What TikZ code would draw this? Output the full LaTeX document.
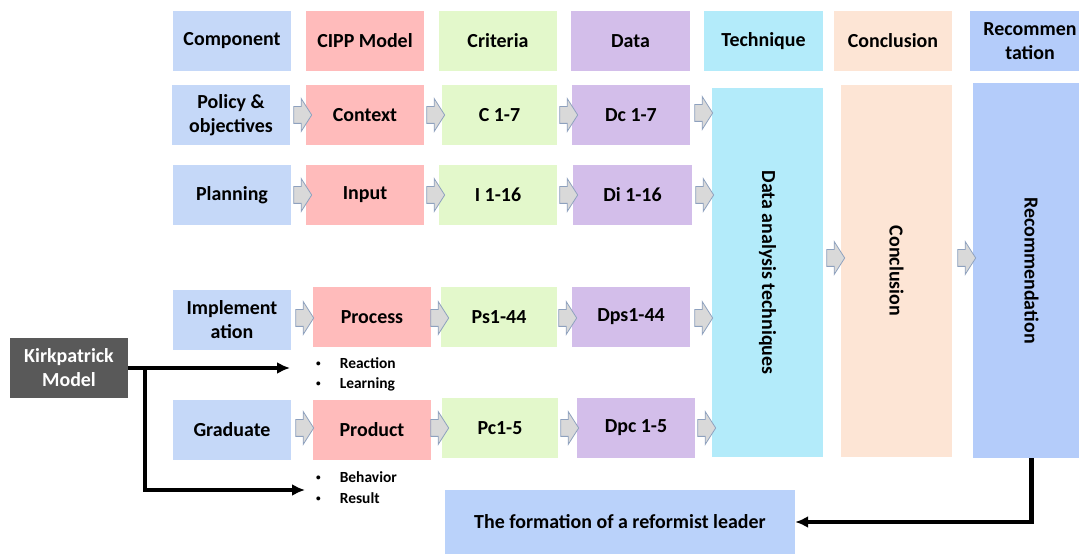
\documentclass[tikz,border=0pt]{standalone}
\usepackage{fontspec}
\setmainfont{Carlito}
\usetikzlibrary{arrows,arrows.meta,shapes}
\definecolor{compblue}{HTML}{C5D8F8}
\definecolor{cipppink}{HTML}{FFBBBB}
\definecolor{critgreen}{HTML}{E3F8CB}
\definecolor{datapurple}{HTML}{D3BEEA}
\definecolor{techcyan}{HTML}{B3EBFA}
\definecolor{conclpeach}{HTML}{FDE5D5}
\definecolor{recblue}{HTML}{B4CCFA}
\definecolor{goalblue}{HTML}{BAD2FA}
\definecolor{kpgray}{HTML}{595959}
\definecolor{arrowgray}{HTML}{D9D9D9}
\definecolor{arrowrim}{HTML}{8EA1BE}
\newcommand{\lvbullet}{\raisebox{.25ex}{\scalebox{.6}{\textbullet}}\hspace{19bp}}

\begin{document}
\begin{tikzpicture}[>={Latex[length=13bp,width=12bp]}]
      \tikzstyle{every node}=[font=\fontsize{20}{24}\selectfont\bfseries, align=center, inner sep=0pt]
      \tikzstyle{cell}=[minimum width=118bp, minimum height=60bp]
      \tikzstyle{blk}=[single arrow, draw=arrowrim, fill=arrowgray, line width=0.8pt, minimum height=18bp, inner ysep=8bp, inner xsep=0pt, single arrow head extend=8bp, single arrow tip angle=115]
      \tikzstyle{bul}=[anchor=west, align=left, font=\fontsize{15.5}{20.5}\selectfont\bfseries]
      \tikzstyle{lnk}=[->, line width=3.4bp]
      \path [use as bounding box, clip] (0bp,0bp) rectangle (1079bp,554bp);
      %%
  \node (hd_comp) at (232bp,513bp) [cell,fill=compblue] {Component};
  \node (hd_cipp) at (365bp,513bp) [cell,fill=cipppink] {CIPP Model};
  \node (hd_crit) at (498bp,513bp) [cell,fill=critgreen] {Criteria};
  \node (hd_data) at (630.5bp,513bp) [cell,fill=datapurple,minimum width=119bp] {Data};
  \node (hd_tech) at (763.5bp,513bp) [cell,fill=techcyan,minimum width=119bp] {Technique};
  \node (hd_concl) at (893bp,513bp) [cell,fill=conclpeach] {Conclusion};
  \node (hd_rec) at (1030bp,513bp) [cell,fill=recblue,minimum width=120bp] {Recommen\\tation};
  %%
  \node (r1_comp) at (231bp,439bp) [cell,fill=compblue] {Policy \&\\objectives};
  \node (r1_cipp) at (365bp,439bp) [cell,fill=cipppink] {Context};
  \node (r1_crit) at (499.5bp,439bp) [cell,fill=critgreen,minimum width=115bp] {C 1-7};
  \node (r1_data) at (631bp,439bp) [cell,fill=datapurple] {Dc 1-7};
  \node (r2_comp) at (232bp,359bp) [cell,fill=compblue] {Planning};
  \node (r2_cipp) at (365bp,359bp) [cell,fill=cipppink] {Input};
  \node (r2_crit) at (498bp,359bp) [cell,fill=critgreen] {I 1-16};
  \node (r2_data) at (632.5bp,359bp) [cell,fill=datapurple,minimum width=119bp] {Di 1-16};
  \node (r3_comp) at (232bp,234bp) [cell,fill=compblue] {Implement\\ation};
  \node (r3_cipp) at (372bp,237bp) [cell,fill=cipppink] {Process};
  \node (r3_crit) at (499bp,237bp) [cell,fill=critgreen,minimum width=116bp] {Ps1-44};
  \node (r3_data) at (631bp,237bp) [cell,fill=datapurple] {Dps1-44};
  \node (r4_comp) at (232bp,124bp) [cell,fill=compblue] {Graduate};
  \node (r4_cipp) at (372bp,124bp) [cell,fill=cipppink] {Product};
  \node (r4_crit) at (500bp,126bp) [cell,fill=critgreen,minimum width=116bp] {Pc1-5};
  \node (r4_data) at (636bp,126bp) [cell,fill=datapurple] {Dpc 1-5};
  %%
  \node (tech) at (767.5bp,281.5bp) [fill=techcyan,minimum width=111bp,minimum height=369bp] {\rotatebox{-90}{Data analysis techniques}};
  \node (concl) at (896.5bp,283bp) [fill=conclpeach,minimum width=111bp,minimum height=372bp] {\rotatebox{-90}{Conclusion}};
  \node (rec) at (1031.5bp,283.5bp) [fill=recblue,minimum width=117bp,minimum height=375bp] {\rotatebox{-90}{Recommendation}};
  \node (kp) at (69bp,186bp) [cell,fill=kpgray,text=white] {Kirkpatrick\\Model};
  \node (goal) at (620bp,32bp) [fill=goalblue,minimum width=350bp,minimum height=64bp] {The formation of a reformist leader};
  \node (lv_12) at (316bp,179.5bp) [bul] {\lvbullet Reaction\\\lvbullet Learning};
  \node (lv_34) at (316bp,66.5bp) [bul] {\lvbullet Behavior\\\lvbullet Result};
  %%
  \node (ar1a) at (300bp,439bp) [blk] {};
  \node (ar1b) at (433bp,439bp) [blk] {};
  \node (ar1c) at (566bp,439bp) [blk] {};
  \node (ar1d) at (701bp,441bp) [blk] {};
  \node (ar2a) at (300bp,359bp) [blk] {};
  \node (ar2b) at (433bp,359bp) [blk] {};
  \node (ar2c) at (566bp,359bp) [blk] {};
  \node (ar2d) at (702bp,359bp) [blk] {};
  \node (ar3a) at (302bp,236bp) [blk] {};
  \node (ar3b) at (437bp,236bp) [blk] {};
  \node (ar3c) at (565bp,236bp) [blk] {};
  \node (ar3d) at (701bp,236bp) [blk] {};
  \node (ar4a) at (302bp,126bp) [blk] {};
  \node (ar4b) at (437bp,126bp) [blk] {};
  \node (ar4c) at (567bp,126bp) [blk] {};
  \node (ar4d) at (704bp,126bp) [blk] {};
  \node (ar_tc) at (833bp,296bp) [blk] {};
  \node (ar_cr) at (964bp,296bp) [blk] {};
  %%
  \coordinate (kp_split) at (145bp,186bp);
  \coordinate (kp_up) at (290bp,186bp);
  \coordinate (kp_low) at (305bp,64bp);
  \draw [lnk] (kp.east) -- (kp_up);
  \draw [lnk] (kp_split) |- (kp_low);
  \draw [lnk,line width=4.2bp] (rec.south) |- (goal.east);
%

    \end{tikzpicture}
\end{document}
